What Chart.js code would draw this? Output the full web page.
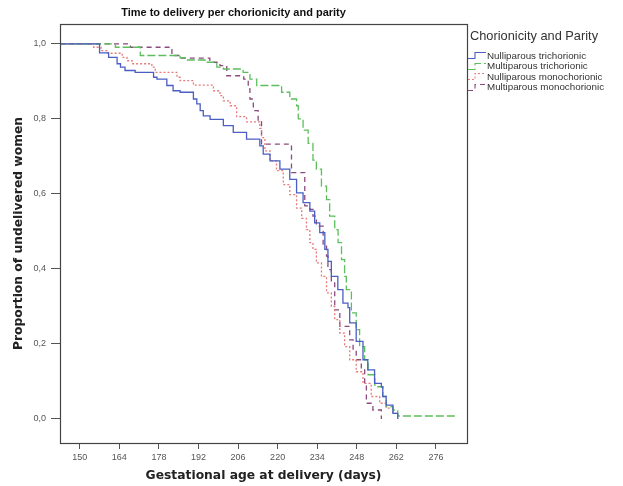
<!DOCTYPE html>
<html>
<head>
<meta charset="utf-8">
<script src="https://cdn.jsdelivr.net/npm/chart.js@4.4.1/dist/chart.umd.min.js"></script>
<style>
  html, body { margin: 0; padding: 0; background: #fff; }
  #wrap { position: relative; width: 623px; height: 486px; }
  #legend { position: absolute; left: 467px; top: 28px; font-family: "Liberation Sans", Arial, sans-serif; color: #333; }
  #legend h4 { margin: 0 0 7px 3px; font-weight: normal; font-size: 12.8px; }
  #legend .item { display: flex; align-items: center; height: 10.5px; font-size: 9.8px; white-space: nowrap; }
  #legend svg { width: 20px; height: 10px; flex: none; }
</style>
</head>
<body>
<div id="wrap">
  <canvas id="kmChart" width="623" height="486"></canvas>
  <div id="legend"><h4>Chorionicity and Parity</h4></div>
</div>
<script>
// tick labels
let xTicks = [150, 164, 178, 192, 206, 220, 234, 248, 262, 276];
let yTicks = [0, 0.2, 0.4, 0.6, 0.8, 1.0];

let seriesNames = ['Nulliparous trichorionic', 'Multiparous trichorionic', 'Nulliparous monochorionic', 'Multiparous monochorionic'];

// Kaplan-Meier steps (day, proportion undelivered)
let nulliTriDays = [143, 157, 160.2, 163.2, 164.4, 166, 169.6, 176.1, 177.3, 180.8, 183, 185.5, 190.2, 191.4, 192.6, 193.7, 196.1, 200.8, 204.3, 209, 213.7, 214.9, 217.3, 220.8, 224.3, 226.7, 229, 231.4, 233.1, 234.9, 236.7, 237.8, 239, 241.3, 243.1, 244.9, 245.5, 247.8, 250.2, 251.9, 254.3, 256.7, 257.2, 258.4, 260.8, 262.5];
let nulliTriProp = [1, 0.976, 0.964, 0.947, 0.938, 0.929, 0.924, 0.911, 0.906, 0.889, 0.875, 0.871, 0.853, 0.84, 0.822, 0.808, 0.799, 0.782, 0.764, 0.746, 0.728, 0.706, 0.688, 0.666, 0.639, 0.603, 0.577, 0.554, 0.523, 0.497, 0.452, 0.42, 0.38, 0.345, 0.309, 0.297, 0.256, 0.207, 0.158, 0.131, 0.095, 0.086, 0.06, 0.037, 0.015, 0];

let multiTriDays = [143, 162.6, 171.4, 185.5, 187.3, 194.3, 198.5, 200.8, 207.8, 210.2, 212.6, 221.4, 224.3, 226.7, 227.3, 229, 230.8, 232.5, 233.7, 235.5, 237.3, 238.4, 240.2, 241.4, 242.6, 243.7, 244.3, 246.1, 247.8, 249, 250.8, 252, 254.4, 257.2, 258.4, 260.8, 262.5, 283];
let multiTriProp = [1, 0.991, 0.969, 0.963, 0.957, 0.951, 0.938, 0.933, 0.924, 0.906, 0.889, 0.871, 0.853, 0.835, 0.8, 0.77, 0.735, 0.69, 0.666, 0.621, 0.585, 0.541, 0.505, 0.47, 0.425, 0.38, 0.345, 0.283, 0.238, 0.193, 0.158, 0.118, 0.086, 0.06, 0.033, 0.024, 0.008, 0.008];

let nulliMonoDays = [143, 154.9, 157.5, 160, 165, 166.7, 168.5, 175.5, 176.7, 184.4, 185.5, 190.2, 197.3, 199.6, 200.8, 203.2, 205.5, 209, 213.7, 214.3, 215.5, 217.3, 219.6, 222, 224.3, 226.7, 228.5, 230.2, 231.4, 232.5, 233.7, 235.5, 237.3, 239, 240.2, 242, 243.7, 245.5, 247.8, 250.2, 253.1, 256.1, 258.4, 260.8, 262.5];
let nulliMonoProp = [1, 0.991, 0.982, 0.975, 0.964, 0.955, 0.947, 0.938, 0.924, 0.911, 0.902, 0.89, 0.875, 0.862, 0.848, 0.835, 0.806, 0.792, 0.775, 0.75, 0.715, 0.688, 0.662, 0.625, 0.598, 0.562, 0.535, 0.505, 0.47, 0.452, 0.416, 0.38, 0.336, 0.3, 0.265, 0.229, 0.193, 0.158, 0.126, 0.095, 0.06, 0.042, 0.029, 0.015, 0];

let multiMonoDays = [143, 167.9, 182.6, 185, 196, 199.6, 202, 208, 209.6, 210.2, 211.4, 213.1, 214.3, 224.9, 229.6, 231.4, 232.5, 233.7, 236.1, 237.3, 237.8, 239, 240.2, 242, 245.5, 246.7, 247.8, 249.6, 250.8, 251.4, 253.7, 256.7];
let multiMonoProp = [1, 0.991, 0.969, 0.962, 0.951, 0.942, 0.915, 0.906, 0.88, 0.853, 0.822, 0.795, 0.733, 0.657, 0.568, 0.559, 0.541, 0.514, 0.461, 0.434, 0.398, 0.363, 0.291, 0.247, 0.211, 0.184, 0.158, 0.131, 0.095, 0.042, 0.024, 0];

let lineColors = ['#4a5fc1', '#5cbf5c', '#e77b7b', '#8b4a7e'];
let lineDashes = [[], [8, 3], [2, 2], [5, 4]];

function toPoints(days, prop) {
    return days.map((d, i) => ({x: d, y: prop[i]}));
}

let allSeries = [
    toPoints(nulliTriDays, nulliTriProp),
    toPoints(multiTriDays, multiTriProp),
    toPoints(nulliMonoDays, nulliMonoProp),
    toPoints(multiMonoDays, multiMonoProp)
];

Chart.defaults.font.family = '"Liberation Sans", Arial, sans-serif';

// draws the closed box round the plot, like SPSS does
const frameBox = {
    id: 'frameBox',
    afterDraw(chart) {
        const a = chart.chartArea;
        const ctx = chart.ctx;
        ctx.save();
        ctx.strokeStyle = '#444';
        ctx.lineWidth = 1.2;
        ctx.strokeRect(Math.round(a.left) + 0.5, Math.round(a.top) + 0.5, Math.round(a.right - a.left), Math.round(a.bottom - a.top));
        ctx.restore();
    }
};

let canvas = document.getElementById('kmChart').getContext('2d');

new Chart(canvas, {
    type: 'line',
    data: {
        datasets: allSeries.map((pts, i) => ({
            label: seriesNames[i],
            data: pts,
            borderColor: lineColors[i],
            borderDash: lineDashes[i],
            borderWidth: 1.3,
            stepped: 'before',
            pointRadius: 0,
            fill: false
        }))
    },
    options: {
        responsive: false,
        animation: false,
        layout: { padding: { right: 156 } },
        plugins: {
            legend: { display: false },
            tooltip: { enabled: false },
            title: {
                display: true,
                text: 'Time to delivery per chorionicity and parity',
                color: '#111',
                font: { size: 11, weight: 'bold' },
                padding: { top: 6.4, bottom: 4.4 }
            }
        },
        scales: {
            x: {
                type: 'linear',
                min: 143,
                max: 287,
                afterBuildTicks: axis => { axis.ticks = xTicks.map(v => ({value: v})); },
                afterFit: axis => { axis.height = 43; },
                grid: { drawOnChartArea: false, tickLength: 6, color: '#555' },
                border: { color: '#444' },
                ticks: { autoSkip: false, maxRotation: 0, padding: 3, color: '#555', font: { size: 9 } },
                title: {
                    display: true,
                    text: 'Gestational age at delivery (days)',
                    color: '#222',
                    font: { family: '"DejaVu Sans", Verdana, sans-serif', size: 12.3, weight: 'bold' },
                    padding: { top: 0, bottom: 3 }
                }
            },
            y: {
                min: -0.064,
                max: 1.053,
                afterBuildTicks: axis => { axis.ticks = yTicks.map(v => ({value: v})); },
                afterFit: axis => { axis.width = 60; },
                grid: { drawOnChartArea: false, tickLength: 9, color: '#555' },
                border: { color: '#444' },
                ticks: {
                    padding: 5,
                    color: '#555',
                    font: { size: 9 },
                    callback: v => v.toFixed(1).replace('.', ',')
                },
                title: {
                    display: true,
                    text: 'Proportion of undelivered women',
                    color: '#222',
                    font: { family: '"DejaVu Sans", Verdana, sans-serif', size: 12.3, weight: 'bold' },
                    padding: { top: 11, bottom: 0 }
                }
            }
        }
    },
    plugins: [frameBox]
});

// legend on the right, built from the same series list
let legendBox = document.getElementById('legend');
seriesNames.forEach((name, i) => {
    let row = document.createElement('div');
    row.className = 'item';
    row.innerHTML = '<svg viewBox="0 0 20 10"><path d="M1 8.5 H8 V2.5 H19" fill="none" stroke="' + lineColors[i] +
        '" stroke-width="1.1" stroke-dasharray="' + lineDashes[i].join(' ') + '"/></svg><span>' + name + '</span>';
    legendBox.appendChild(row);
});
</script>
</body>
</html>
